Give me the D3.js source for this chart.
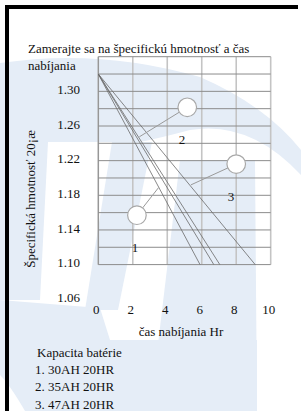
<!DOCTYPE html>
<html>
<head>
<meta charset="utf-8">
<script src="https://cdn.jsdelivr.net/npm/d3@7"></script>
<style>
  html, body { margin: 0; padding: 0; background: #fff; }
  svg { display: block; }
  text { font-family: "Liberation Serif", "Times New Roman", serif; font-size: 13px; fill: #111; }
</style>
</head>
<body>
<div id="chart"></div>
<script>
/* CONSTANTS AND GLOBALS */
const width = 301;
const height = 411;

/* DATA */
const titleLines = ["Zamerajte sa na špecifickú hmotnosť a čas", "nabíjania"];
const yTicks = [1.30, 1.26, 1.22, 1.18, 1.14, 1.10, 1.06];
const xTicks = [0, 2, 4, 6, 8, 10];
const yLabel = "Špecifická hmotnosť 20¡æ";
const xLabel = "čas nabíjania Hr";
const legendTitle = "Kapacita batérie";
const legendItems = ["1. 30AH 20HR", "2. 35AH 20HR", "3. 47AH 20HR"];

// charge lines start together and fall to 1.10
const startPoint = [0, 1.32];
const lineEnds = [5.9, 6.7, 7.05, 9.1];
const endValue = 1.10;

// circled markers with callout to a line
const markers = [
  { id: "1", cx: 2.24, cy: 1.157, tx: 3.5, ty: 1.189, lx: 2.13, ly: 1.12 },
  { id: "2", cx: 5.16, cy: 1.2816, tx: 2.38, ty: 1.2475, lx: 4.85, ly: 1.245 },
  { id: "3", cx: 8.0, cy: 1.216, tx: 5.37, ty: 1.192, lx: 7.7, ly: 1.179 }
];

/* SCALES */
const x = d3.scaleLinear().domain([0, 10]).range([98.3, 270.7]);
const y = d3.scaleLinear().domain([1.10, 1.34]).range([264.6, 56.7]);
const hLines = d3.range(0, 13).map(i => 1.10 + i * 0.02);

const svg = d3.select("#chart")
  .append("svg")
  .attr("width", width)
  .attr("height", height);

svg.append("rect").attr("width", width).attr("height", height).attr("fill", "#fff");

/* watermark */
const wm = svg.append("g").attr("fill", "#e5edf7");
wm.append("path").attr("d", "M0,63 Q100,48 200,77 Q265,105 301,150 L301,175 Q250,120 190,130 Q160,138 140,142 L0,142 Z");
wm.append("path").attr("d", "M0,142 L48,142 L40,300 L0,300 Z");
wm.append("path").attr("d", "M112,142 L152,142 L118,310 L85,310 Z");
wm.append("path").attr("d", "M180,160 L255,160 L257,411 L150,411 Z");
wm.append("path").attr("d", "M0,300 L100,308 L110,340 L257,340 L257,411 L25,411 Q10,385 0,375 Z");

/* frame */
svg.append("rect").attr("x", 5).attr("y", 5).attr("width", 4).attr("height", height - 5).attr("fill", "#000");
svg.append("rect").attr("x", 5).attr("y", 5).attr("width", 293).attr("height", 4).attr("fill", "#000");

/* grid */
svg.append("g").selectAll("line.v")
  .data(xTicks)
  .join("line")
  .attr("x1", d => x(d)).attr("x2", d => x(d))
  .attr("y1", y(1.34)).attr("y2", y(1.10))
  .attr("stroke", "#c4c4c4")
  .attr("stroke-width", 1.6);

svg.append("g").selectAll("line.h")
  .data(hLines)
  .join("line")
  .attr("x1", x(0)).attr("x2", x(10))
  .attr("y1", d => y(d)).attr("y2", d => y(d))
  .attr("stroke", "#8c8c8c")
  .attr("stroke-width", 1);

svg.append("line")
  .attr("x1", x(0)).attr("x2", x(0))
  .attr("y1", y(1.34)).attr("y2", y(1.10))
  .attr("stroke", "#8c8c8c");

/* charge lines */
svg.append("g").selectAll("line")
  .data(lineEnds)
  .join("line")
  .attr("x1", x(startPoint[0])).attr("y1", y(startPoint[1]))
  .attr("x2", d => x(d)).attr("y2", y(endValue))
  .attr("stroke", "#6a6a6a")
  .attr("stroke-width", 0.8);

/* markers */
const r = 9.3;
const mk = svg.append("g");
markers.forEach(m => {
  const cx = x(m.cx), cy = y(m.cy), tx = x(m.tx), ty = y(m.ty);
  const a = Math.atan2(ty - cy, tx - cx);
  mk.append("line")
    .attr("x1", cx + r * Math.cos(a)).attr("y1", cy + r * Math.sin(a))
    .attr("x2", tx).attr("y2", ty)
    .attr("stroke", "#9a9a9a").attr("stroke-width", 1);
  mk.append("circle")
    .attr("cx", cx).attr("cy", cy).attr("r", r)
    .attr("fill", "#fff").attr("stroke", "#a8a8a8").attr("stroke-width", 1.2);
  mk.append("text")
    .attr("x", x(m.lx)).attr("y", y(m.ly))
    .attr("dy", "0.35em")
    .attr("text-anchor", "middle")
    .text(m.id);
});

/* tick labels */
svg.append("g").selectAll("text")
  .data(yTicks)
  .join("text")
  .attr("x", 80)
  .attr("y", d => y(d) - 2)
  .attr("dy", "0.35em")
  .attr("text-anchor", "end")
  .text(d => d.toFixed(2));

svg.append("g").selectAll("text")
  .data(xTicks)
  .join("text")
  .attr("x", d => x(d) - 2)
  .attr("y", 309)
  .attr("dy", "0.35em")
  .attr("text-anchor", "middle")
  .text(d => d);

/* titles */
svg.append("g").selectAll("text")
  .data(titleLines)
  .join("text")
  .attr("x", 28)
  .attr("y", (d, i) => 48 + i * 17)
  .attr("dy", "0.35em")
  .text(d => d);

svg.append("text")
  .attr("transform", "translate(30,199) rotate(-90)")
  .attr("dy", "0.35em")
  .attr("text-anchor", "middle")
  .text(yLabel);

svg.append("text")
  .attr("x", 181)
  .attr("y", 331)
  .attr("dy", "0.35em")
  .attr("text-anchor", "middle")
  .text(xLabel);

/* legend */
svg.append("text").attr("x", 37).attr("y", 352).attr("dy", "0.35em").text(legendTitle);
svg.append("g").selectAll("text")
  .data(legendItems)
  .join("text")
  .attr("x", 35)
  .attr("y", (d, i) => 369 + i * 17.5)
  .attr("dy", "0.35em")
  .text(d => d);
</script>
</body>
</html>
